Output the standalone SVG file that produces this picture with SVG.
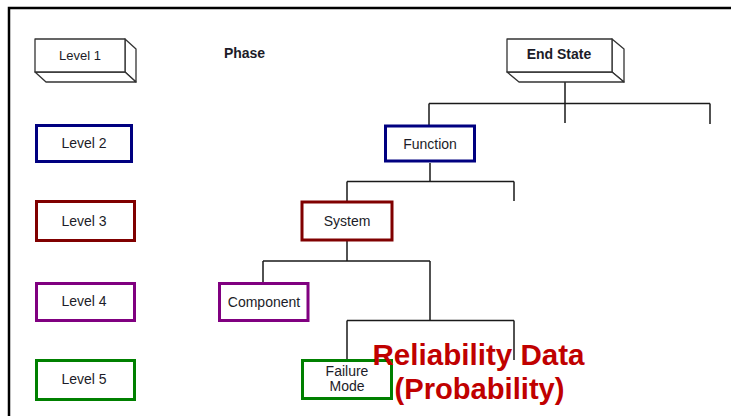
<svg xmlns="http://www.w3.org/2000/svg" width="731" height="416" viewBox="0 0 731 416">
<style>
.lbl{font-family:"Liberation Sans",Arial,sans-serif;font-size:14px;fill:#1c1c28;text-anchor:middle}
.bold{font-weight:bold}
.box{fill:#fff;stroke-width:3}
.b3d{fill:#fff;stroke:#333;stroke-width:1.3;stroke-linejoin:round}
.c{stroke:#1a1a1a;stroke-width:1.5;fill:none}
.red{font-family:"Liberation Sans",Arial,sans-serif;font-weight:bold;font-size:29px;fill:#c00000}
</style>
<rect width="731" height="416" fill="#fff"/>
<path d="M9,416 V8 H731" fill="none" stroke="#000" stroke-width="2.5"/>

<g id="connectors">
<path class="c" d="M565,82 V123 M429,103.5 H710 M429,103.5 V125 M710,103.5 V124"/>
<path class="c" d="M430,163 V181.5 M347,181.5 H514 M347,181.5 V201 M514,181.5 V201"/>
<path class="c" d="M347,241 V261 M263,261 H430 M263,261 V283 M430,261 V321"/>
<path class="c" d="M347,320.5 H514 M347,320.5 V360 M514,320.5 V360"/>
</g>

<g id="level1">
<polygon class="b3d" points="125,39 136,49 136,82 125,72"/>
<polygon class="b3d" points="35,72 125,72 136,82 46,82"/>
<rect class="b3d" x="35" y="39" width="90" height="33"/>
<text class="lbl" x="80" y="60" style="font-size:13px">Level 1</text>
</g>
<g id="level2">
<rect class="box" x="36.5" y="125.5" width="95" height="36" stroke="#000080"/>
<text class="lbl" x="84" y="148">Level 2</text>
</g>
<g id="level3">
<rect class="box" x="36.5" y="201.5" width="98" height="39" stroke="#800000"/>
<text class="lbl" x="84" y="226">Level 3</text>
</g>
<g id="level4">
<rect class="box" x="36.5" y="283.5" width="98" height="37" stroke="#800080"/>
<text class="lbl" x="84" y="306">Level 4</text>
</g>
<g id="level5">
<rect class="box" x="36.5" y="360.5" width="98" height="39" stroke="#008000"/>
<text class="lbl" x="84" y="384">Level 5</text>
</g>

<g id="phase">
<text class="lbl bold" x="244.5" y="58">Phase</text>
</g>

<g id="endstate">
<polygon class="b3d" points="612,39 624,49 624,82 612,72"/>
<polygon class="b3d" points="507,72 612,72 624,82 519,82"/>
<rect class="b3d" x="507" y="39" width="105" height="33"/>
<text class="lbl bold" x="559" y="59">End State</text>
</g>
<g id="function">
<rect class="box" x="385.5" y="126" width="89" height="35" stroke="#000080"/>
<text class="lbl" x="430" y="148.5">Function</text>
</g>
<g id="system">
<rect class="box" x="302" y="202" width="90" height="38" stroke="#800000"/>
<text class="lbl" x="347" y="226">System</text>
</g>
<g id="component">
<rect class="box" x="219.5" y="283.5" width="88.5" height="37" stroke="#800080"/>
<text class="lbl" x="264" y="307">Component</text>
</g>
<g id="failuremode">
<rect class="box" x="302.5" y="360.5" width="89" height="38" stroke="#008000"/>
<text class="lbl" x="347" y="376">Failure</text>
<text class="lbl" x="347" y="391">Mode</text>
</g>

<g id="note">
<text class="red" x="372.5" y="365" textLength="212" lengthAdjust="spacingAndGlyphs">Reliability Data</text>
<text class="red" x="394.5" y="399" textLength="170" lengthAdjust="spacingAndGlyphs">(Probability)</text>
</g>
</svg>
